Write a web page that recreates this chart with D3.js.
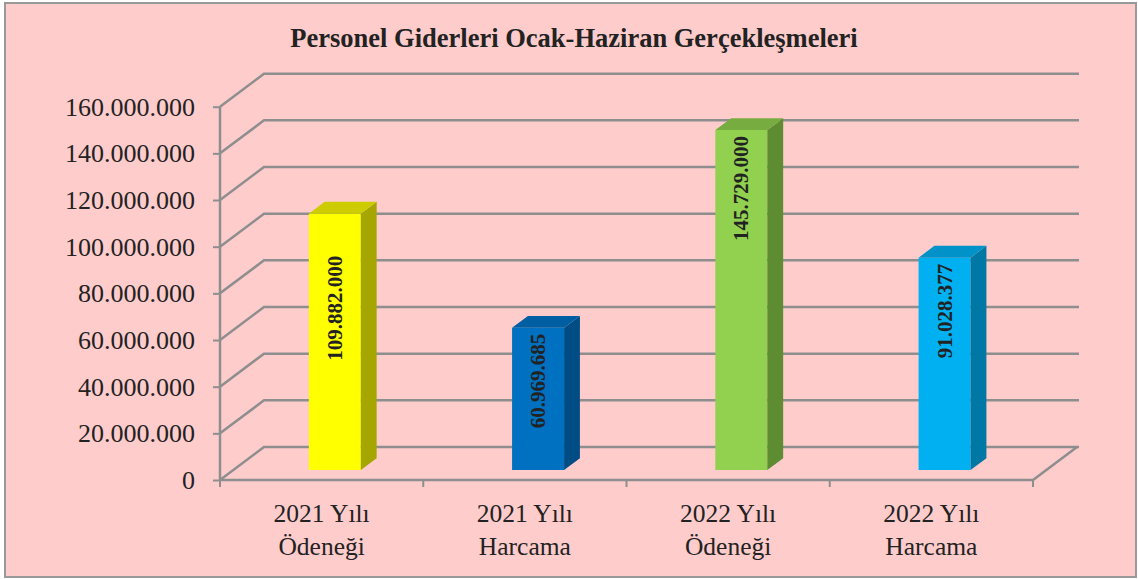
<!DOCTYPE html>
<html>
<head>
<meta charset="utf-8">
<script src="https://cdn.jsdelivr.net/npm/d3@7"></script>
<style>
  body { margin: 0; background: #fff; }
  svg { display: block; }
  text { font-family: "Liberation Serif", "Times New Roman", serif; fill: #222; }
</style>
</head>
<body>
<svg id="chart" width="1138" height="579"></svg>
<script>
// data
var categories = ["2021 Yılı Ödeneği", "2021 Yılı Harcama", "2022 Yılı Ödeneği", "2022 Yılı Harcama"];
var catLines = [["2021 Yılı", "Ödeneği"], ["2021 Yılı", "Harcama"], ["2022 Yılı", "Ödeneği"], ["2022 Yılı", "Harcama"]];
var values = [109882000, 60969685, 145729000, 91028377];
var valueLabels = ["109.882.000", "60.969.685", "145.729.000", "91.028.377"];
var yTicks = [0, 20000000, 40000000, 60000000, 80000000, 100000000, 120000000, 140000000, 160000000];
var title = "Personel Giderleri Ocak-Haziran Gerçekleşmeleri";

// face colours: front, side, top
var colors = [
  ["#FFFF00", "#A6A600", "#CCCC00"],
  ["#0070C0", "#004D85", "#005EA3"],
  ["#92D050", "#5E8C30", "#77AC40"],
  ["#00B0F0", "#0078A6", "#0092C8"]
];

var svg = d3.select("#chart");

svg.append("rect")
  .attr("x", 5).attr("y", 3)
  .attr("width", 1131).attr("height", 574)
  .attr("fill", "#FFCCCC")
  .attr("stroke", "#999").attr("stroke-width", 2);

svg.append("text")
  .attr("x", 574).attr("y", 47)
  .attr("text-anchor", "middle")
  .attr("font-size", 26.5).attr("font-weight", "bold")
  .text(title);

var x0 = 220, x1 = 1033;
var DX = 44, DY = 33;            // full depth offset of the back wall
var z0 = 0.3, z1 = 0.66;         // bar depth range

var x = d3.scaleBand().domain(categories).range([x0, x1]);
var y = d3.scaleLinear().domain([0, 160000000]).range([480, 106.7]);

function px(xv, z) { return xv + z * DX; }
function py(v, z) { return y(v) - z * DY; }

var grid = svg.append("g");
grid.selectAll("polyline")
  .data(yTicks)
  .join("polyline")
  .attr("fill", "none")
  .attr("stroke", "#8E8E8E")
  .attr("stroke-width", 2.5)
  .attr("points", function(d) {
    return [[x0, y(d)], [px(x0, 1), py(d, 1)], [px(x1, 1) + 2, py(d, 1)]].join(" ");
  });

// floor front edge and right side
grid.append("polyline")
  .attr("fill", "none")
  .attr("stroke", "#8E8E8E")
  .attr("stroke-width", 2.5)
  .attr("points", [[x0, y(0)], [x1, y(0)], [px(x1, 1), py(0, 1)]].join(" "));

// vertical axis
var yAxis = d3.axisLeft(y).tickValues(yTicks).tickSize(7).tickPadding(18)
  .tickFormat(function(d) { return d === 0 ? "0" : d3.format(",")(d).replace(/,/g, "."); });
var ya = svg.append("g").attr("transform", "translate(" + x0 + ",0)").call(yAxis);
ya.select(".domain").attr("stroke", "#8E8E8E").attr("stroke-width", 2.5).attr("d", "M0," + y(160000000) + "V" + y(0));
ya.selectAll(".tick line").attr("stroke", "#8E8E8E").attr("stroke-width", 2);
ya.selectAll(".tick text").attr("font-size", 26).attr("font-family", "Liberation Serif").attr("fill", "#222");

// category axis ticks
var xb = svg.append("g");
xb.selectAll("line")
  .data(categories.map(function(c) { return x(c); }).concat([x1]))
  .join("line")
  .attr("x1", function(d) { return d; }).attr("x2", function(d) { return d; })
  .attr("y1", y(0)).attr("y2", y(0) + 7)
  .attr("stroke", "#8E8E8E").attr("stroke-width", 2);

xb.selectAll("text")
  .data(categories)
  .join("text")
  .attr("text-anchor", "middle")
  .attr("font-size", 25.5)
  .attr("x", function(d) { return x(d) + x.bandwidth() / 2; })
  .attr("y", 522)
  .each(function(d, i) {
    var t = d3.select(this);
    catLines[i].forEach(function(line, j) {
      t.append("tspan").attr("x", x(d) + x.bandwidth() / 2).attr("dy", j ? 33 : 0).text(line);
    });
  });

// 3D bars
var barW = 52;
var bars = svg.append("g").selectAll("g")
  .data(categories)
  .join("g");

bars.each(function(d, i) {
  var g = d3.select(this);
  var cx = x(d) + x.bandwidth() / 2 + z0 * DX;
  var L = cx - barW / 2, R = cx + barW / 2;
  var v = values[i];
  function P(xx, vv, z) { return [xx + (z - z0) * DX, py(vv, z)]; }
  // front
  g.append("polygon").attr("fill", colors[i][0])
    .attr("points", [P(L, 0, z0), P(R, 0, z0), P(R, v, z0), P(L, v, z0)].join(" "));
  // side
  g.append("polygon").attr("fill", colors[i][1])
    .attr("points", [P(R, 0, z0), P(R, 0, z1), P(R, v, z1), P(R, v, z0)].join(" "));
  // top
  g.append("polygon").attr("fill", colors[i][2])
    .attr("points", [P(L, v, z0), P(R, v, z0), P(R, v, z1), P(L, v, z1)].join(" "));

  var nudge = i === 0 ? 36 : 0;
  var top = py(v, z0) + 6 + nudge;
  g.append("text")
    .attr("transform", "translate(" + (cx + 7) + "," + top + ") rotate(-90)")
    .attr("text-anchor", "end")
    .attr("font-size", 21)
    .attr("font-weight", "bold")
    .attr("fill", "#111")
    .text(valueLabels[i]);
});
</script>
</body>
</html>
